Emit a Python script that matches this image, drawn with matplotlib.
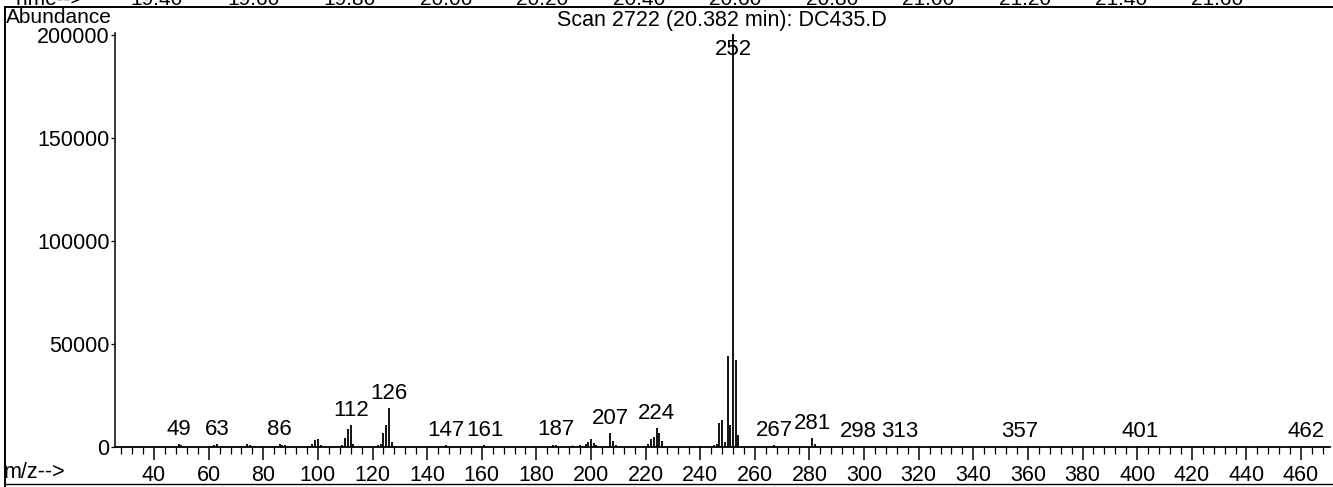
import matplotlib
matplotlib.use("Agg")
import matplotlib.pyplot as plt
from matplotlib.lines import Line2D
from matplotlib.ticker import MultipleLocator

plt.rcParams['font.family'] = ['Liberation Sans', 'DejaVu Sans']

# main peaks (m/z, abundance)
main_mz = [252, 253, 250, 251, 248, 247, 254, 249, 246, 245,
           126, 125, 124, 127, 123, 122,
           112, 111, 110, 113, 109,
           100, 99, 98, 101,
           207, 208, 209, 200, 199, 198, 201, 202, 196,
           224, 225, 223, 222, 226, 221,
           281, 282, 267,
           49, 63, 86, 74, 75, 87, 88, 62, 50, 51,
           147, 161, 187, 186, 185,
           298, 313, 357, 401, 462]
main_ab = [200500, 42000, 44000, 10500, 13000, 11500, 5800, 2500, 1500, 800,
           18800, 10700, 6800, 2500, 1500, 900,
           10700, 8700, 4400, 1500, 1200,
           3800, 3500, 1500, 1200,
           6900, 3000, 1200, 3800, 2200, 1500, 2000, 1200, 1000,
           9000, 6800, 5000, 3800, 3000, 1500,
           4400, 1300, 800,
           1500, 1500, 1500, 1300, 1200, 1000, 900, 900, 800, 700,
           1000, 1000, 1200, 900, 700,
           500, 500, 400, 400, 400]

# small background ions
noise_mz = [32, 36, 38, 39, 41, 43, 44, 45, 55, 57, 60, 65, 69, 73, 77, 81,
            84, 89, 91, 93, 96, 105, 115, 117, 119, 128, 131, 135, 137, 139,
            141, 149, 151, 155, 159, 163, 165, 167, 171, 175, 179, 183, 189,
            191, 193, 195, 204, 211, 213, 215, 217, 219, 229, 231, 235, 237,
            240, 243, 255, 257, 261, 263, 269, 271, 273, 277, 285, 289, 293,
            296, 300, 305, 315, 327, 341, 369, 385, 415, 429, 449]
noise_ab = [400, 500, 300, 600, 500, 700, 600, 400, 500, 600, 400, 700, 500,
            600, 700, 500, 600, 500, 700, 400, 600, 700, 500, 600, 400, 700,
            600, 500, 700, 400, 600, 500, 700, 400, 600, 700, 500, 600, 400,
            700, 600, 500, 700, 600, 800, 700, 600, 700, 500, 600, 700, 500,
            600, 400, 500, 600, 500, 700, 600, 500, 400, 500, 400, 300, 500,
            400, 300, 400, 300, 400, 500, 300, 300, 300, 300, 300, 300, 300,
            300, 300]

label_mz = [49, 63, 86, 112, 126, 147, 161, 187, 207, 224, 252,
            267, 281, 298, 313, 357, 401, 462]

y_ticks = [0, 50000, 100000, 150000, 200000]
x_ticks = [40, 60, 80, 100, 120, 140, 160, 180, 200, 220, 240, 260, 280,
           300, 320, 340, 360, 380, 400, 420, 440, 460]
time_labels = ["19.40", "19.60", "19.80", "20.00", "20.20", "20.40",
               "20.60", "20.80", "21.00", "21.20", "21.40", "21.60"]

W, H = 1333, 487
fig = plt.figure(figsize=(W / 100, H / 100), dpi=100)
ax = fig.add_axes([115 / W, 40 / H, 1215 / W, 414 / H])

ax.vlines(noise_mz, 0, noise_ab, color='black', lw=0.9)
ax.vlines(main_mz, 0, main_ab, color='black', lw=1.3)

ab_of = dict(zip(main_mz, main_ab))
for m in label_mz:
    y = min(ab_of[m], 186000)
    ax.annotate(str(m), (m, y), xytext=(0, 3), textcoords='offset points',
                ha='center', va='bottom', fontsize=16, annotation_clip=False)

ax.set_xlim(25.7, 470.6)
ax.set_ylim(0, 201000)
ax.set_xticks(x_ticks)
ax.xaxis.set_minor_locator(MultipleLocator(4))
ax.set_yticks(y_ticks)
ax.set_yticklabels([str(v) for v in y_ticks])
ax.tick_params(axis='x', which='major', direction='out', length=9, width=1.1,
               labelsize=15.5, pad=4)
ax.tick_params(axis='x', which='minor', direction='out', length=5, width=0.9)
ax.tick_params(axis='y', direction='out', length=3, width=0.9,
               labelsize=15.5, pad=1)
for s in ['top', 'right']:
    ax.spines[s].set_visible(False)
ax.spines['left'].set_linewidth(1.1)
ax.spines['bottom'].set_linewidth(1.3)

# page frame and cut-off chromatogram axis at the top
fig.add_artist(Line2D([5 / W, 5 / W], [0, 1 - 7 / H], color='black', lw=1.4))
fig.add_artist(Line2D([5 / W, 1], [1 - 7 / H, 1 - 7 / H], color='black', lw=1.4))
fig.add_artist(Line2D([5 / W, 1], [3 / H, 3 / H], color='black', lw=1.0))
fig.text(12 / W, 1 - 5 / H, "Time-->", fontsize=15, va='baseline')
for i, t in enumerate(time_labels):
    fig.text((157 + i * 96.4) / W, 1 - 5 / H, t, fontsize=15,
             ha='center', va='baseline')

fig.text(6 / W, 1 - 8 / H, "Abundance", fontsize=15, va='top')
fig.text(722 / W, 1 - 10 / H, "Scan 2722 (20.382 min): DC435.D",
         fontsize=15.5, ha='center', va='top')
fig.text(4 / W, 1 - 472 / H, "m/z-->", fontsize=15.5, va='center')

fig.savefig("out.png", dpi=100)
